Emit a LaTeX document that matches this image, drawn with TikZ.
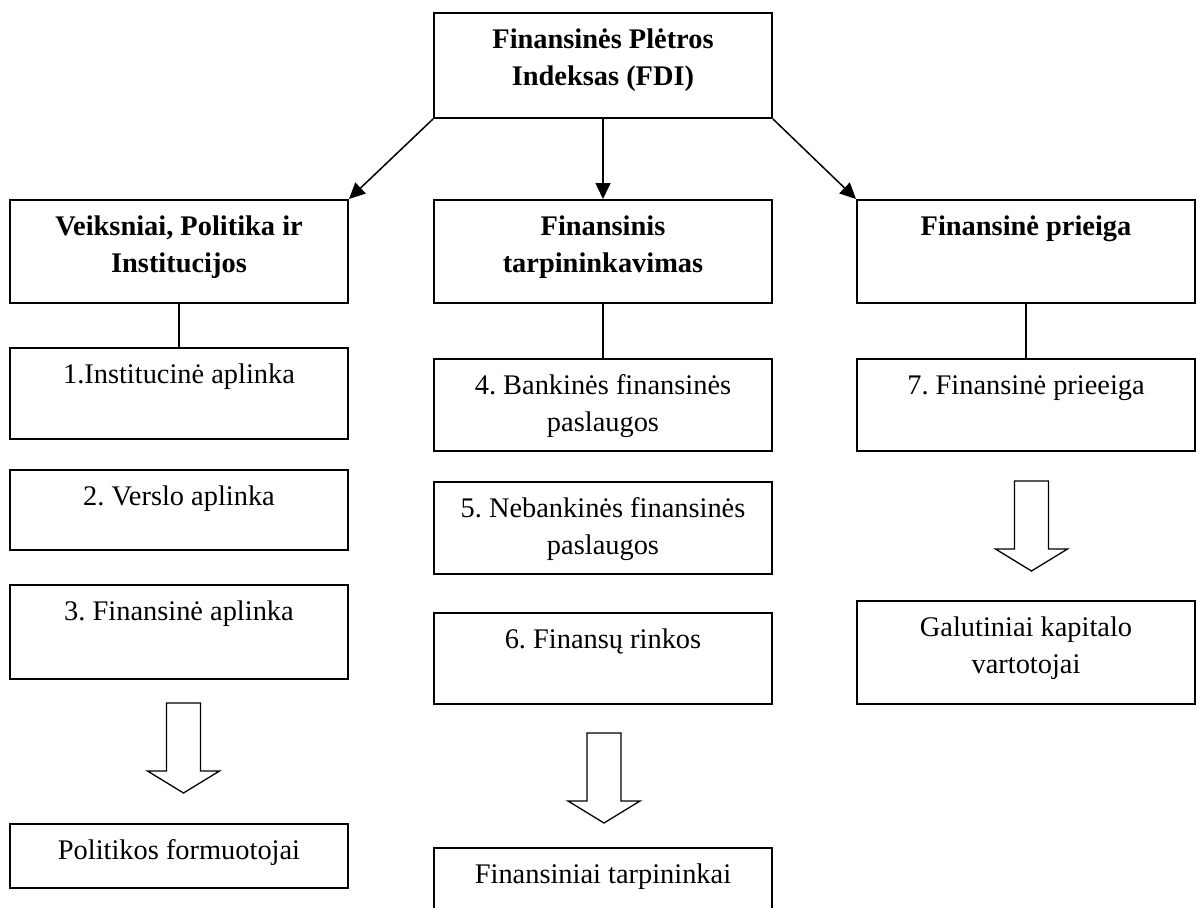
\documentclass[tikz,border=0pt]{standalone}
\usepackage{fontspec}
\setmainfont{Liberation Serif}
\usetikzlibrary{arrows.meta}
\frenchspacing

\newcommand{\boxtext}[2]{\parbox[t][#1][t]{169pt}{\centering\rule{0pt}{17.5pt}#2}}

\begin{document}
\begin{tikzpicture}[x=0.5pt, y=-0.5pt,
    box/.style={draw, line width=1pt, inner sep=0pt, anchor=north, font=\fontsize{14.2pt}{18.5pt}\selectfont},
    head/.style={box, font=\fontsize{14.2pt}{18.5pt}\selectfont\bfseries},
    link/.style={line width=0.75pt, -{Triangle[length=8pt, width=7.5pt]}},
    hollow/.style={line width=0.65pt}]
    \useasboundingbox (0,0) rectangle (1196,907);
    \clip (0,0) rectangle (1196,907);

    % Nodes
    \node[head] (fdi) at (603,12) {\boxtext{52.5pt}{Finansinės Plėtros\\Indeksas (FDI)}}; % Root
    \node[head] (vpi) at (179,199) {\boxtext{51.5pt}{Veiksniai, Politika ir\\Institucijos}};
    \node[head] (fti) at (603,199) {\boxtext{51.5pt}{Finansinis\\tarpininkavimas}};
    \node[head] (fpr) at (1026,199) {\boxtext{51.5pt}{Finansinė prieiga}};

    \node[box] (a1) at (179,347) {\boxtext{45.5pt}{1.Institucinė aplinka}};
    \node[box] (a2) at (179,469) {\boxtext{40pt}{2. Verslo aplinka}};
    \node[box] (a3) at (179,584) {\boxtext{47pt}{3. Finansinė aplinka}};
    \node[box] (pfo) at (179,823) {\boxtext{32pt}{Politikos formuotojai}}; % Result

    \node[box] (b4) at (603,358) {\boxtext{46pt}{4. Bankinės finansinės\\paslaugos}};
    \node[box] (b5) at (603,481) {\boxtext{46pt}{5. Nebankinės finansinės\\paslaugos}};
    \node[box] (b6) at (603,612) {\boxtext{45.5pt}{6. Finansų rinkos}};
    \node[box] (ftk) at (603,847) {\boxtext{42pt}{Finansiniai tarpininkai}}; % Result

    \node[box] (c7) at (1026,358) {\boxtext{46pt}{7. Finansinė prieeiga}};
    \node[box] (gkv) at (1026,600) {\boxtext{51.5pt}{Galutiniai kapitalo\\vartotojai}}; % Result

    % Edges
    \draw[link] (fdi.south west) -- (vpi.north east);
    \draw[link] (fdi.south) -- (fti.north);
    \draw[link] (fdi.south east) -- (fpr.north west);
    \draw[line width=0.75pt] (vpi) -- (a1);
    \draw[line width=0.75pt] (fti) -- (b4);
    \draw[line width=0.75pt] (fpr) -- (c7);

    % Hollow arrows
    \foreach \x/\y in {183.5/703, 604/733, 1031.5/481}
        \draw[hollow] (\x,\y) ++(-17,0) -- ++(0,68) -- ++(-19,0) -- ++(36,22) -- ++(36,-22) -- ++(-19,0) -- ++(0,-68) -- cycle;
\end{tikzpicture}
\end{document}
